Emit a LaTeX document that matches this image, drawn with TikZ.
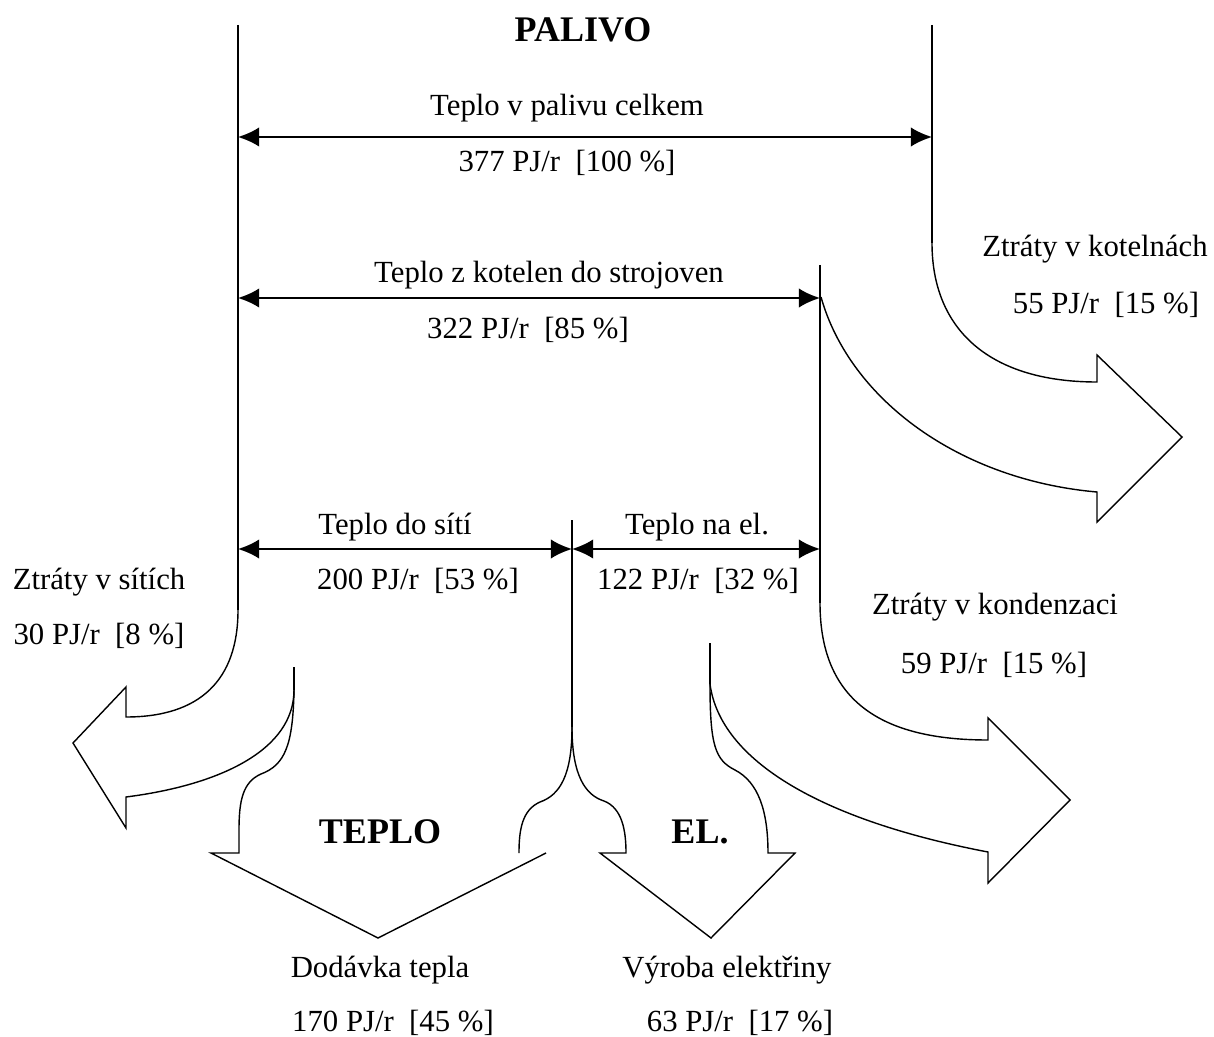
\documentclass[tikz,border=0pt]{standalone}
\usepackage{fontspec}
\setmainfont{Liberation Serif}
\usetikzlibrary{arrows.meta}
\begin{document}
\begin{tikzpicture}[x=0.02cm,y=-0.02cm,
  rule/.style={line width=1.1pt},
  flow/.style={line width=0.8pt},
  dimarrow/.style={line width=1.1pt,{Latex[length=12pt,width=11pt]}-{Latex[length=12pt,width=11pt]}},
  lbl/.style={font=\fontsize{17.5}{20}\selectfont,inner sep=0pt},
  big/.style={font=\fontsize{20.5}{24}\selectfont\bfseries,inner sep=0pt}]
\useasboundingbox (0,0) rectangle (1214,1037);
% key coordinates
\coordinate (L1t) at (238,25);   \coordinate (L1b) at (238,610);
\coordinate (R1t) at (932,25);   \coordinate (R1b) at (932,243);
\coordinate (R2t) at (820,265);  \coordinate (R2b) at (820,603);
\coordinate (Mt) at (572,520);   \coordinate (Mb) at (572,727);
\coordinate (Tt) at (294,667);   \coordinate (Tb) at (294,690);
\coordinate (Et) at (710,643);   \coordinate (Eb) at (710,684);
% vertical rules
\draw[rule] (L1t) -- (L1b);
\draw[rule] (R1t) -- (R1b);
\draw[rule] (R2t) -- (R2b);
\draw[rule] (Mt) -- (Mb);
\draw[flow] (Tt) -- (Tb);
\draw[flow] (Et) -- (Eb);
% dimension arrows
\coordinate (a1l) at (238,137); \coordinate (a1r) at (932,137);
\coordinate (a2l) at (238,298); \coordinate (a2r) at (820,298);
\coordinate (a3l) at (238,549); \coordinate (a3r) at (572,549);
\coordinate (a4l) at (572,549); \coordinate (a4r) at (820,549);
\draw[dimarrow] (a1l) -- (a1r);
\draw[dimarrow] (a2l) -- (a2r);
\draw[dimarrow] (a3l) -- (a3r);
\draw[dimarrow] (a4l) -- (a4r);
% losses in boiler rooms
\draw[flow] (R1b) .. controls (932,330) and (990,382) .. (1097,382)
  -- (1097,355) -- (1182,437) -- (1097,522) -- (1097,492)
  .. controls (960,480) and (850,400) .. (821,297);
% losses in condensation
\draw[flow] (R2b) .. controls (820,700) and (880,740) .. (988,740)
  -- (988,718) -- (1070,800) -- (988,883) -- (988,852)
  .. controls (820,820) and (720,760) .. (Eb);
% losses in networks
\draw[flow] (L1b) .. controls (238,680) and (200,717) .. (126,717)
  -- (126,687) -- (73,743) -- (126,828) -- (126,797)
  .. controls (220,785) and (294,750) .. (Tb);
% TEPLO arrow
\draw[flow] (Tb) .. controls (293,745) and (285,765) .. (261,774)
  .. controls (243,782) and (239,800) .. (239,830) -- (239,853)
  -- (211,853) -- (378,938) -- (546,853);
\draw[flow] (Mb) .. controls (572,775) and (560,795) .. (540,802)
  .. controls (522,810) and (519,830) .. (519,853);
% EL arrow
\draw[flow] (Mb) .. controls (572,775) and (585,795) .. (604,801)
  .. controls (622,808) and (626,830) .. (626,853)
  -- (600,853) -- (711,938) -- (795,853) -- (768,853)
  .. controls (768,810) and (758,782) .. (735,770)
  .. controls (715,760) and (710,745) .. (Eb);
% texts
\node[big] (palivo) at (583,30) {PALIVO};
\node[lbl] (t1a) at (567,108) {Teplo v palivu celkem};
\node[lbl] (t1b) at (567,163) {377 PJ/r~~[100~\%]};
\node[lbl] (t2a) at (549,275) {Teplo z kotelen do strojoven};
\node[lbl] (t2b) at (528,330) {322 PJ/r~~[85~\%]};
\node[lbl] (t3a) at (395,527) {Teplo do sítí};
\node[lbl] (t3b) at (418,581) {200 PJ/r~~[53~\%]};
\node[lbl] (t4a) at (697,527) {Teplo na el.};
\node[lbl] (t4b) at (698,581) {122 PJ/r~~[32~\%]};
\node[lbl] (s1) at (99,582) {Ztráty v sítích};
\node[lbl] (s2) at (99,636) {30 PJ/r~~[8~\%]};
\node[lbl] (k1) at (1095,249) {Ztráty v kotelnách};
\node[lbl] (k2) at (1106,305) {55 PJ/r~~[15~\%]};
\node[lbl] (c1) at (995,607) {Ztráty v kondenzaci};
\node[lbl] (c2) at (994,665) {59 PJ/r~~[15~\%]};
\node[big] (teplo) at (380,832) {TEPLO};
\node[big] (el) at (700,832) {EL.};
\node[lbl] (d1) at (380,970) {Dodávka tepla};
\node[lbl] (d2) at (393,1023) {170 PJ/r~~[45~\%]};
\node[lbl] (v1) at (727,970) {Výroba elektřiny};
\node[lbl] (v2) at (740,1023) {63 PJ/r~~[17~\%]};
\end{tikzpicture}
\end{document}
